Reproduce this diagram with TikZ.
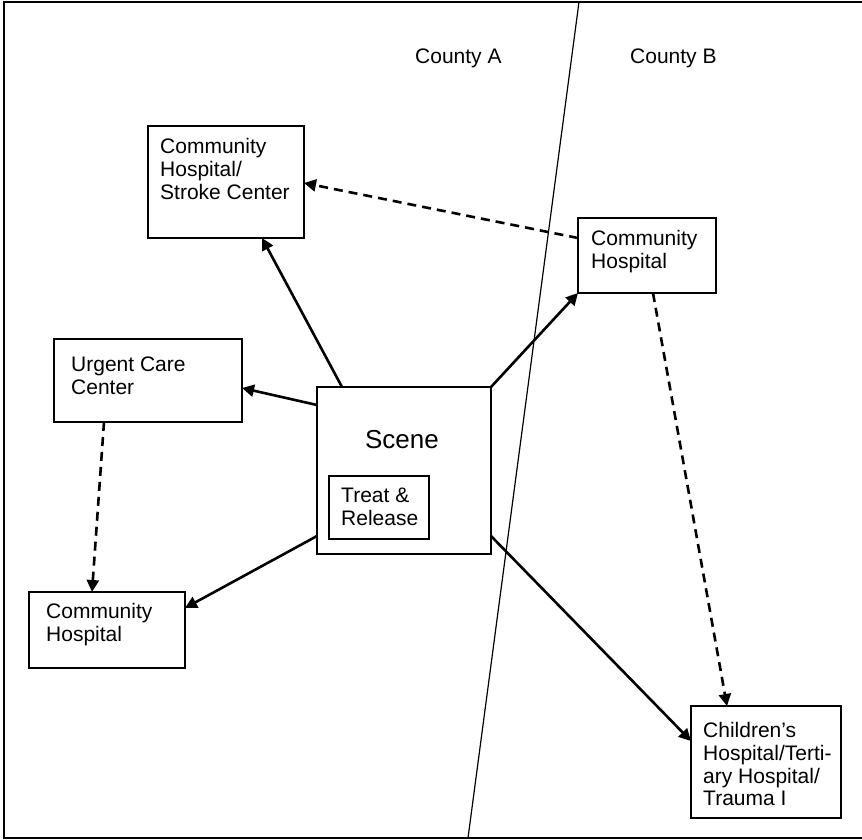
\documentclass[tikz,border=0pt]{standalone}
\usepackage{fontspec}
\setmainfont{Liberation Sans}
\usetikzlibrary{positioning}
\usetikzlibrary{arrows.meta}
\usetikzlibrary{calc}

\begin{document}
\begin{tikzpicture}[
                x=1pt, y=-1pt,
                box/.style = {
                    draw,
                    line width = 2pt,
                    anchor = north west,
                    inner sep = 0pt,
                    outer sep = 0pt
                },
                txt/.style = {
                    anchor = north west,
                    align = left,
                    inner sep = 0pt,
                    font = \fontsize{21}{22.8}\selectfont
                },
                route/.style = {
                    line width = 2.6pt,
                    -{Triangle[length=12pt, width=12pt]}
                },
                transfer/.style = {
                    route,
                    dash pattern = on 9pt off 6pt
                }
            ]
            \useasboundingbox (0,0) rectangle (862,839);
            \draw[line width = 1.3pt] (862,2) -- (4,2) -- (4,838) -- (862,838);
            %
            \coordinate (lineTop) at (579,2);
            \coordinate (lineBot) at (468,838);
            \draw[line width = 1.2pt] (lineTop) -- (lineBot);
            %
            \node[txt, anchor=base west] (countyA) at (415,63) {County A};
            \node[txt, anchor=base west] (countyB) at (630,63) {County B};
            %
            \node[box, minimum width=156pt, minimum height=112pt] (stroke) at (148,126) {};
            \node[txt, below right=12pt and 12pt of stroke.north west] (strokeText) {Community\\Hospital/\\Stroke Center};
            %
            \node[box, minimum width=188pt, minimum height=83pt] (urgent) at (54,339) {};
            \node[txt, below right=18pt and 17pt of urgent.north west] (urgentText) {Urgent Care\\Center};
            %
            \node[box, minimum width=156pt, minimum height=76pt] (commL) at (29,592) {};
            \node[txt, below right=11pt and 17pt of commL.north west] (commLText) {Community\\Hospital};
            %
            \node[box, minimum width=174pt, minimum height=167pt] (scene) at (317,387) {};
            \node[txt, anchor=base, font=\fontsize{26}{28}\selectfont] (sceneText) at (402,448) {Scene};
            \node[box, minimum width=100pt, minimum height=63pt] (treat) at (329,476) {};
            \node[txt, below right=12pt and 12pt of treat.north west] (treatText) {Treat \&\\Release};
            %
            \node[box, minimum width=138pt, minimum height=75pt] (commR) at (578,218) {};
            \node[txt, below right=12pt and 13pt of commR.north west] (commRText) {Community\\Hospital};
            %
            \node[box, minimum width=150pt, minimum height=112pt] (children) at (691,706) {};
            \node[txt, below right=16pt and 12pt of children.north west] (childrenText) {Children's\\Hospital/Terti-\\ary Hospital/\\Trauma I};
            %
            \draw[route] ([xshift=25pt]scene.north west) -- ([xshift=-42pt]stroke.south east);
            \draw[route] ([yshift=-18pt]scene.north west) -- ([yshift=-49pt]urgent.north east);
            \draw[route] ([yshift=18pt]scene.south west) -- ([yshift=-16pt]commL.north east);
            \draw[route] (scene.north east) -- (commR.south west);
            \draw[route] ([yshift=18pt]scene.south east) -- ([yshift=-35pt]children.north west);
            %
            \draw[transfer] ([yshift=-20pt]commR.north west) -- ([yshift=-57pt]stroke.north east);
            \draw[transfer] ([xshift=50pt]urgent.south west) -- ([xshift=63pt]commL.north west);
            \draw[transfer] ([xshift=75pt]commR.south west) -- ([xshift=36pt]children.north west);
            %
        \end{tikzpicture}
\end{document}
